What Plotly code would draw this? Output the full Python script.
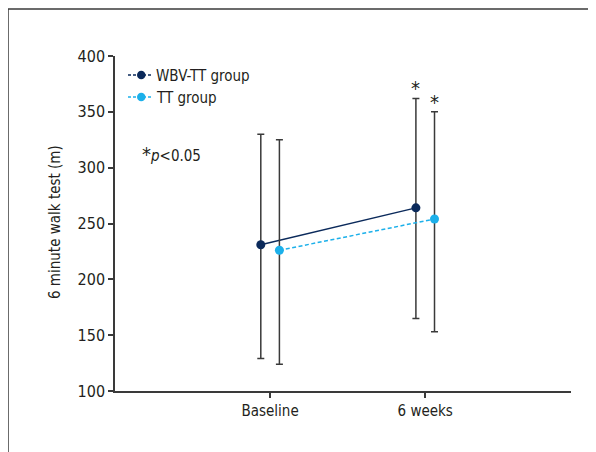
import plotly.graph_objects as go

# ---- data ----
categories = ["Baseline", "6 weeks"]
wbv_mean = [231, 264]
wbv_upper = [330, 362]
wbv_lower = [129, 165]
tt_mean = [226, 254]
tt_upper = [325, 350]
tt_lower = [124, 153]
y_ticks = [100, 150, 200, 250, 300, 350, 400]

NAVY = "#0b2a5b"
BLUE = "#1cb0ea"
GRAY = "#3a3a3a"
TXT = "#231f20"
FONT = "DejaVu Sans Condensed, Liberation Sans Narrow, Roboto, sans-serif"

# page has an 8px body margin; figure coordinates = page - 8
OFF = 8
W, H = 596 - OFF, 452 - OFF
L, T = 115 - OFF, 56 - OFF
R = W - (571 - OFF)
B = H - (391 - OFF)
PW, PH = W - L - R, H - T - B


def px(x):
    return (x - OFF - L) / PW


def py(y):
    return (H - B - (y - OFF)) / PH


xpos = list(range(1, len(categories) + 1))
off = 0.06
wx = [x - off for x in xpos]
tx = [x + off for x in xpos]

fig = go.Figure()
fig.add_trace(go.Scatter(
    x=wx, y=wbv_mean, mode="lines+markers",
    line=dict(color=NAVY, width=1.5),
    marker=dict(color=NAVY, size=9),
    error_y=dict(type="data", symmetric=False,
                 array=[u - m for u, m in zip(wbv_upper, wbv_mean)],
                 arrayminus=[m - l for m, l in zip(wbv_mean, wbv_lower)],
                 color=GRAY, thickness=1.5, width=3.5),
    showlegend=False))
fig.add_trace(go.Scatter(
    x=tx, y=tt_mean, mode="lines+markers",
    line=dict(color=BLUE, width=1.5, dash="4px,2.5px"),
    marker=dict(color=BLUE, size=9),
    error_y=dict(type="data", symmetric=False,
                 array=[u - m for u, m in zip(tt_upper, tt_mean)],
                 arrayminus=[m - l for m, l in zip(tt_mean, tt_lower)],
                 color=GRAY, thickness=1.5, width=3.5),
    showlegend=False))

annotations = []
# significance stars
for x, u in ((wx[1], wbv_upper[1]), (tx[1], tt_upper[1])):
    annotations.append(dict(x=x, y=u, xref="x", yref="y", text="*", showarrow=False,
                            yanchor="bottom", yshift=-4,
                            font=dict(family=FONT, size=20, color=TXT)))

# manual legend
shapes = []
for i, (name, col) in enumerate((("WBV-TT group", NAVY), ("TT group", BLUE))):
    yy = 75 + 22 * i
    shapes.append(dict(type="line", xref="paper", yref="paper",
                       x0=px(128), x1=px(153), y0=py(yy), y1=py(yy),
                       line=dict(color=col, width=1.3, dash="3px,2px")))
    shapes.append(dict(type="circle", xref="paper", yref="paper",
                       x0=px(137), x1=px(145.5), y0=py(yy - 4.25), y1=py(yy + 4.25),
                       fillcolor=col, line=dict(color=col, width=0)))
    annotations.append(dict(x=px(154), y=py(yy + 1), xref="paper", yref="paper",
                            text=name, showarrow=False, xanchor="left", yanchor="middle",
                            font=dict(family=FONT, size=15, color=TXT)))

annotations.append(dict(x=px(140), y=py(154), xref="paper", yref="paper",
                        text="<span style='font-size:20px'>*</span><i>p</i>&lt;0.05",
                        showarrow=False, xanchor="left", yanchor="middle",
                        font=dict(family=FONT, size=15, color=TXT)))
annotations.append(dict(x=px(55), y=py(222), xref="paper", yref="paper",
                        text="6 minute walk test (m)", textangle=-90, showarrow=False,
                        xanchor="center", yanchor="middle",
                        font=dict(family=FONT, size=15, color=TXT)))

# outer frame (top and left edges visible)
shapes.append(dict(type="line", xref="paper", yref="paper",
                   x0=px(8), x1=px(620), y0=py(9), y1=py(9),
                   line=dict(color=GRAY, width=1.5)))
shapes.append(dict(type="line", xref="paper", yref="paper",
                   x0=px(8), x1=px(8), y0=py(9), y1=py(480),
                   line=dict(color=GRAY, width=1.5)))

fig.update_layout(
    width=W, height=H,
    margin=dict(l=L, r=R, t=T, b=B),
    paper_bgcolor="white", plot_bgcolor="white",
    font=dict(family=FONT, size=15, color=TXT),
    shapes=shapes, annotations=annotations,
    xaxis=dict(range=[0, 2.94], tickvals=xpos, ticktext=categories,
               showgrid=False, zeroline=False, showline=True,
               linecolor=GRAY, linewidth=1.5, ticks="outside", ticklen=5,
               tickcolor=GRAY, tickwidth=1.5, tickfont=dict(size=15)),
    yaxis=dict(range=[100, 400], tickvals=y_ticks,
               showgrid=False, zeroline=False, showline=True,
               linecolor=GRAY, linewidth=1.5, ticks="outside", ticklen=5,
               tickcolor=GRAY, tickwidth=1.5, tickfont=dict(size=16)),
)

fig.write_html("out.html")
